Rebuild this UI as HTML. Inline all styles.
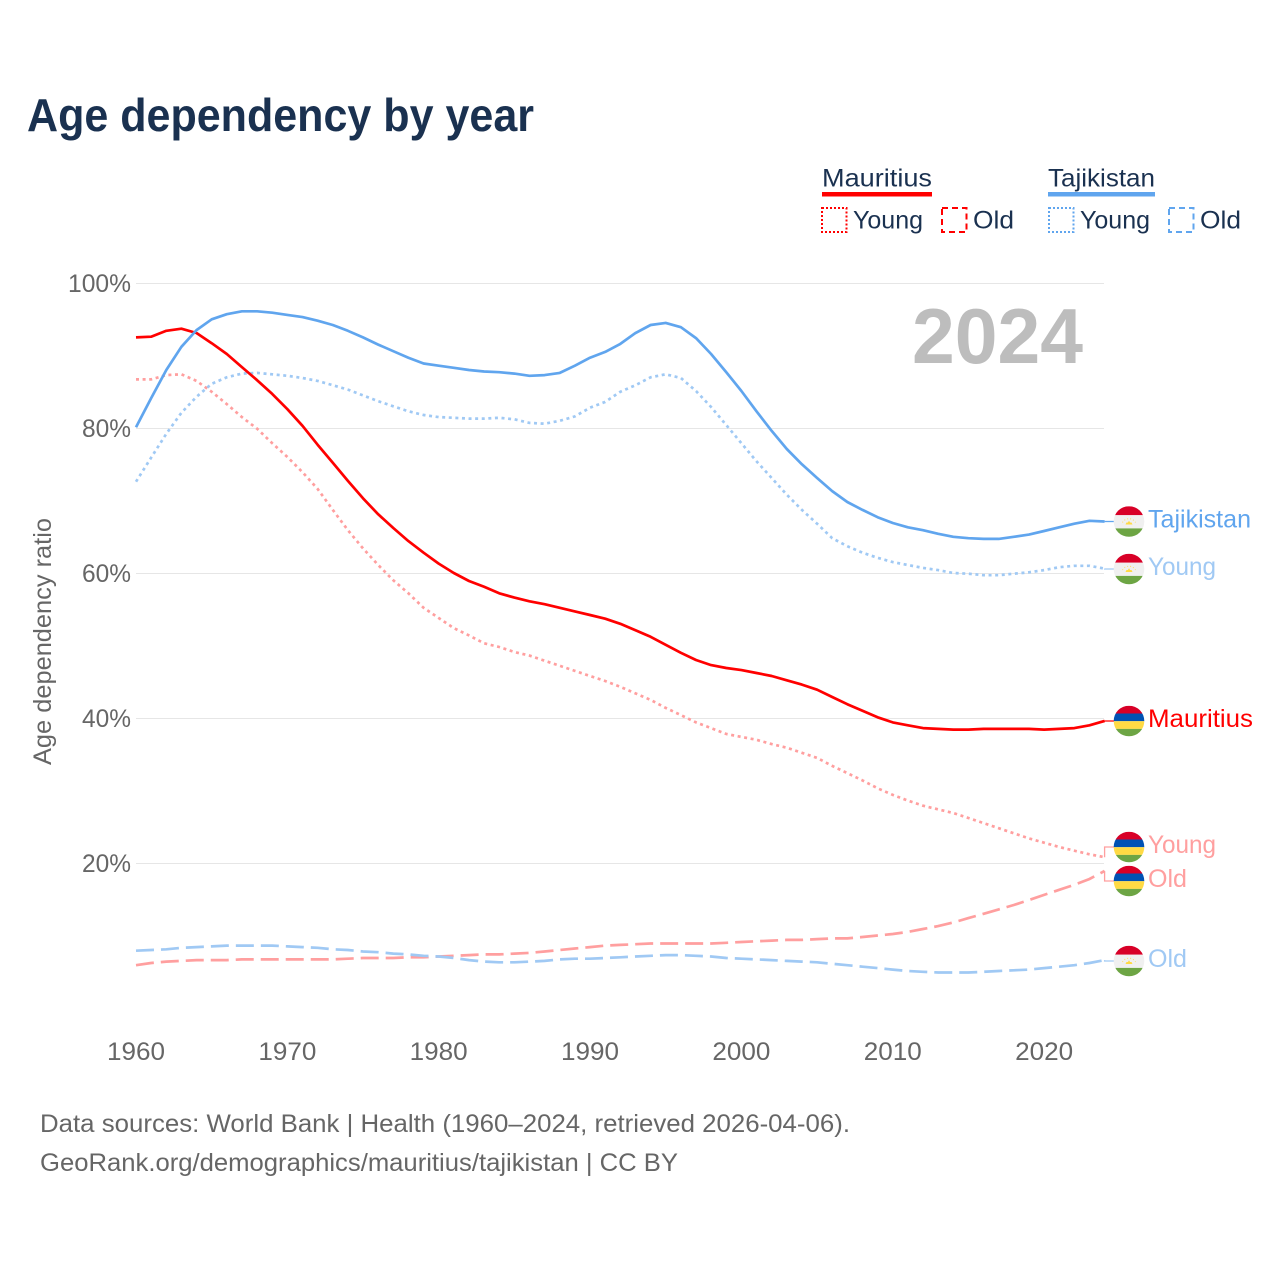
<!DOCTYPE html>
<html lang="en">
<head>
<meta charset="utf-8">
<title>Age dependency by year</title>
<style>
html,body{margin:0;padding:0;background:#fff;width:1280px;height:1280px;overflow:hidden}
svg{display:block}
text{font-family:"Liberation Sans",Arial,sans-serif}
</style>
</head>
<body>
<svg id="chart" xmlns="http://www.w3.org/2000/svg" width="1280" height="1280" viewBox="0 0 1280 1280">
  <rect x="0" y="0" width="1280" height="1280" fill="#ffffff"/>
  <text x="27" y="131" font-size="46" font-weight="700" fill="#1a3150" textLength="507" lengthAdjust="spacingAndGlyphs">Age dependency by year</text>

  <g font-size="25" fill="#1a3150">
    <text x="822" y="186.5" textLength="110" lengthAdjust="spacingAndGlyphs">Mauritius</text>
    <rect x="822" y="192" width="110" height="4.5" fill="#ff0000"/>
    <rect x="822" y="208" width="24.5" height="24" fill="none" stroke="#ff0000" stroke-width="2" stroke-dasharray="2 2"/>
    <text x="853" y="228.5" textLength="70" lengthAdjust="spacingAndGlyphs">Young</text>
    <rect x="942" y="208" width="24.5" height="24" fill="none" stroke="#ff0000" stroke-width="2" stroke-dasharray="6 4"/>
    <text x="973" y="228.5" textLength="41" lengthAdjust="spacingAndGlyphs">Old</text>

    <text x="1048" y="186.5" textLength="107" lengthAdjust="spacingAndGlyphs">Tajikistan</text>
    <rect x="1048" y="192" width="107" height="4.5" fill="#60a5ee"/>
    <rect x="1049" y="208" width="24.5" height="24" fill="none" stroke="#60a5ee" stroke-width="2" stroke-dasharray="2 2"/>
    <text x="1080" y="228.5" textLength="70" lengthAdjust="spacingAndGlyphs">Young</text>
    <rect x="1169" y="208" width="24.5" height="24" fill="none" stroke="#60a5ee" stroke-width="2" stroke-dasharray="6 4"/>
    <text x="1200" y="228.5" textLength="41" lengthAdjust="spacingAndGlyphs">Old</text>
  </g>

  <text transform="translate(51 641.5) rotate(-90)" text-anchor="middle" font-size="25" fill="#666666" textLength="247" lengthAdjust="spacingAndGlyphs">Age dependency ratio</text>
  <g id="grid"></g>
  <g id="yticks"></g>
  <g id="xticks"></g>
  <text x="912" y="363" font-size="78" font-weight="700" fill="#bdbdbd" textLength="171" lengthAdjust="spacingAndGlyphs">2024</text>
  <g id="series"></g>
  <g id="endlabels"></g>

  <text x="40" y="1132" font-size="25" fill="#666666" textLength="810" lengthAdjust="spacingAndGlyphs">Data sources: World Bank | Health (1960–2024, retrieved 2026-04-06).</text>
  <text x="40" y="1171" font-size="25" fill="#666666" textLength="638" lengthAdjust="spacingAndGlyphs">GeoRank.org/demographics/mauritius/tajikistan | CC BY</text>
</svg>
<script>
const startYear = 1960;
const xTickYears = [1960, 1970, 1980, 1990, 2000, 2010, 2020];
const yTickValues = [20, 40, 60, 80, 100];

const mauritiusOld = [5.9,6.2,6.4,6.5,6.6,6.6,6.6,6.7,6.7,6.7,6.7,6.7,6.7,6.7,6.8,6.9,6.9,6.9,7,7,7.1,7.2,7.3,7.4,7.4,7.5,7.6,7.8,8,8.2,8.4,8.6,8.7,8.8,8.9,8.9,8.9,8.9,8.9,9,9.1,9.2,9.3,9.4,9.4,9.5,9.6,9.6,9.8,10,10.2,10.5,10.9,11.3,11.8,12.4,13,13.6,14.2,14.9,15.6,16.3,17,17.8,18.9];
const mauritiusYoung = [86.7,86.7,87.3,87.4,86.5,85,83.3,81.5,79.9,77.9,76,73.9,71.6,68.7,65.9,63.4,61.1,59,57.2,55.2,53.8,52.4,51.4,50.3,49.8,49.1,48.6,47.9,47.2,46.5,45.8,45.1,44.3,43.4,42.5,41.4,40.4,39.4,38.6,37.8,37.4,37,36.4,35.9,35.2,34.5,33.4,32.4,31.4,30.3,29.4,28.6,27.9,27.4,26.9,26.2,25.5,24.8,24.1,23.4,22.8,22.2,21.7,21.2,20.8];
const mauritiusTotal = [92.5,92.6,93.4,93.7,93.1,91.7,90.2,88.4,86.6,84.7,82.6,80.3,77.7,75.2,72.7,70.3,68.1,66.2,64.4,62.8,61.3,60,58.9,58.1,57.2,56.6,56.1,55.7,55.2,54.7,54.2,53.7,53,52.1,51.2,50.1,49,48,47.3,46.9,46.6,46.2,45.8,45.2,44.6,43.9,42.9,41.9,41,40.1,39.4,39,38.6,38.5,38.4,38.4,38.5,38.5,38.5,38.5,38.4,38.5,38.6,39,39.6];
const tajikistanOld = [7.9,8,8.1,8.3,8.4,8.5,8.6,8.6,8.6,8.6,8.5,8.4,8.3,8.1,8,7.8,7.7,7.5,7.4,7.2,7.1,6.9,6.6,6.4,6.3,6.3,6.4,6.5,6.7,6.8,6.8,6.9,7,7.1,7.2,7.3,7.3,7.2,7.1,6.9,6.8,6.7,6.6,6.5,6.4,6.3,6.1,5.9,5.7,5.5,5.3,5.1,5,4.9,4.9,4.9,5,5.1,5.2,5.3,5.5,5.7,5.9,6.2,6.6];
const tajikistanYoung = [72.6,75.9,79.2,82.1,84.3,86.1,87,87.5,87.6,87.4,87.2,86.9,86.5,85.9,85.3,84.5,83.7,83,82.3,81.8,81.5,81.4,81.3,81.3,81.4,81.2,80.7,80.6,81,81.6,82.8,83.6,85,85.9,87,87.4,86.9,85.1,82.9,80.4,77.9,75.4,73.1,70.8,68.7,66.8,64.8,63.7,62.8,62.1,61.5,61.1,60.7,60.4,60,59.9,59.7,59.7,59.9,60.1,60.4,60.8,61,61,60.6];
const tajikistanTotal = [80.1,84.1,88,91.2,93.5,95,95.7,96.1,96.1,95.9,95.6,95.3,94.8,94.2,93.4,92.5,91.5,90.6,89.7,88.9,88.6,88.3,88,87.8,87.7,87.5,87.2,87.3,87.6,88.6,89.7,90.5,91.6,93.1,94.2,94.5,93.9,92.4,90.2,87.7,85.1,82.3,79.6,77.1,75,73.1,71.3,69.8,68.7,67.7,66.9,66.3,65.9,65.4,65,64.8,64.7,64.7,65,65.3,65.8,66.3,66.8,67.2,67.1];

const NS = 'http://www.w3.org/2000/svg';
function xScale(year) { return 136 + (year - 1960) * 15.135; }
function yScale(value) { return 1008 - value * 7.25; }
function make(tag, attrs, parent) {
  const el = document.createElementNS(NS, tag);
  for (const k in attrs) el.setAttribute(k, attrs[k]);
  parent.appendChild(el);
  return el;
}

const gridGroup = document.getElementById('grid');
const yTickGroup = document.getElementById('yticks');
const xTickGroup = document.getElementById('xticks');
const seriesGroup = document.getElementById('series');
const endGroup = document.getElementById('endlabels');

yTickValues.forEach(function (v) {
  const line = make('line', {x1: 136, x2: 1104, y1: yScale(v) + 0.5, y2: yScale(v) + 0.5, stroke: '#e6e6e6', 'stroke-width': 1}, gridGroup);
  
  
  const label = make('text', {x: 131, y: yScale(v) + 9, 'text-anchor': 'end', 'font-size': 25, fill: '#666666', textLength: v === 100 ? 63 : 49, lengthAdjust: 'spacingAndGlyphs'}, yTickGroup);
  
  
  label.textContent = v + '%';
});

xTickYears.forEach(function (yr) {
  const label = make('text', {x: xScale(yr), y: 1060, 'text-anchor': 'middle', 'font-size': 25, fill: '#666666', textLength: 58, lengthAdjust: 'spacingAndGlyphs'}, xTickGroup);
  
  
  label.textContent = yr;
});

function pathFrom(values) {
  return values.map(function (v, i) {
    return (i ? 'L' : 'M') + xScale(startYear + i).toFixed(1) + ' ' + yScale(v).toFixed(1);
  }).join(' ');
}

const dotted = '3 3.6';
const dashed = '18 7';
const redLight = '#ff9f9f';
const blueLight = '#a0c9f4';
const redFull = '#ff0000';
const blueFull = '#60a5ee';

const oldM = make('path', {d: pathFrom(mauritiusOld), fill: 'none', stroke: redLight, 'stroke-width': 2.7, 'stroke-dasharray': dashed}, seriesGroup);


const oldT = make('path', {d: pathFrom(tajikistanOld), fill: 'none', stroke: blueLight, 'stroke-width': 2.7, 'stroke-dasharray': dashed}, seriesGroup);


const youngM = make('path', {d: pathFrom(mauritiusYoung), fill: 'none', stroke: redLight, 'stroke-width': 2.7, 'stroke-dasharray': dotted}, seriesGroup);


const youngT = make('path', {d: pathFrom(tajikistanYoung), fill: 'none', stroke: blueLight, 'stroke-width': 2.7, 'stroke-dasharray': dotted}, seriesGroup);


const totalM = make('path', {d: pathFrom(mauritiusTotal), fill: 'none', stroke: redFull, 'stroke-width': 2.7, 'stroke-linejoin': 'round'}, seriesGroup);


const totalT = make('path', {d: pathFrom(tajikistanTotal), fill: 'none', stroke: blueFull, 'stroke-width': 2.7, 'stroke-linejoin': 'round'}, seriesGroup);



const defs = make('defs', {}, endGroup);
let clipCount = 0;

function drawFlag(country, cy, name) {
  const id = 'flag-clip-' + (clipCount++);
  const cp = make('clipPath', {id: id}, defs);
  make('circle', {cx: 1129, cy: cy, r: 15.3}, cp);
  const g = make('g', {'clip-path': 'url(#' + id + ')'}, endGroup);
  
  
  const t = cy - 15.3;
  if (country === 'mauritius') {
    make('rect', {x: 1113, y: t, width: 32, height: 7.8, fill: '#d80027'}, g);
    make('rect', {x: 1113, y: t + 7.8, width: 32, height: 7.7, fill: '#0052b4'}, g);
    make('rect', {x: 1113, y: t + 15.5, width: 32, height: 7.7, fill: '#ffda44'}, g);
    make('rect', {x: 1113, y: t + 23.2, width: 32, height: 8, fill: '#6da544'}, g);
  } else {
    make('rect', {x: 1113, y: t, width: 32, height: 9, fill: '#d80027'}, g);
    make('rect', {x: 1113, y: t + 9, width: 32, height: 13.2, fill: '#f0f0f0'}, g);
    make('rect', {x: 1113, y: t + 22.2, width: 32, height: 9, fill: '#6da544'}, g);
    make('path', {d: 'M1125.5 ' + (cy + 3) + ' h7 l-1 -2 h-1.4 l-1.1 -1.8 l-1.1 1.8 h-1.4 z', fill: '#ffda44'}, g);
    make('path', {d: 'M1122.5 ' + (cy + 1) + ' a7 6 0 0 1 13 0', fill: 'none', stroke: '#ffda44', 'stroke-width': 1, 'stroke-dasharray': '1 2', opacity: 0.8}, g);
  }
}

const endCountries = ['tajikistan', 'tajikistan', 'mauritius', 'mauritius', 'mauritius', 'tajikistan'];
const endTexts = ['Tajikistan', 'Young', 'Mauritius', 'Young', 'Old', 'Old'];
const endKeys = ['tajikistan-total', 'tajikistan-young', 'mauritius-total', 'mauritius-young', 'mauritius-old', 'tajikistan-old'];
const endLast = [tajikistanTotal, tajikistanYoung, mauritiusTotal, mauritiusYoung, mauritiusOld, tajikistanOld];
const endFlagY = [521.5, 569, 721, 847, 881, 961];
const endColors = [blueFull, blueLight, redFull, redLight, redLight, blueLight];
const endWidths = [103, 68, 105, 68, 39, 39];

endTexts.forEach(function (txt, i) {
  const series = endLast[i];
  const yStart = yScale(series[series.length - 1]);
  const xEnd = xScale(startYear + series.length - 1);
  const cy = endFlagY[i];
  const connector = make('path', {d: 'M' + xEnd.toFixed(1) + ' ' + yStart.toFixed(1) + ' V' + cy + ' H1114', fill: 'none', stroke: endColors[i], 'stroke-width': 1.3}, endGroup);
  
  
  drawFlag(endCountries[i], cy, 'flag-' + endKeys[i]);
  const label = make('text', {x: 1148, y: cy + 6, 'font-size': 25, fill: endColors[i], textLength: endWidths[i], lengthAdjust: 'spacingAndGlyphs'}, endGroup);
  
  
  label.textContent = txt;
});
</script>
</body>
</html>
